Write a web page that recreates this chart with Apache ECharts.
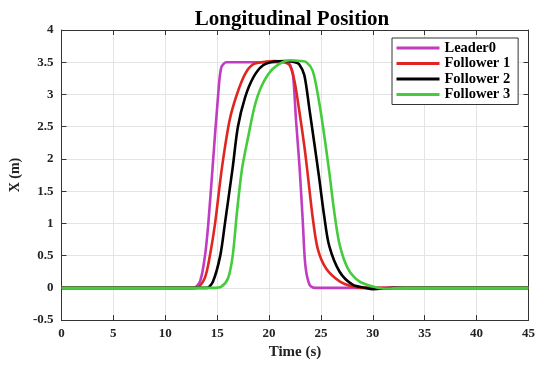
<!DOCTYPE html>
<html>
<head>
<meta charset="utf-8">
<script src="https://cdn.jsdelivr.net/npm/echarts@6/dist/echarts.min.js"></script>
<style>
html, body { margin: 0; padding: 0; background: #fff; }
#chart { width: 538px; height: 365px; }
</style>
</head>
<body>
<div id="chart"></div>
<script>
var seriesNames = ['Leader0', 'Follower 1', 'Follower 2', 'Follower 3'];

// time (s) / longitudinal position (m)
var leaderT = [0, 12.0, 12.7, 13.35, 13.83, 14.15, 14.56, 15.1, 15.4, 15.9, 16.5, 21.3, 21.8, 22.0, 22.3, 22.6, 22.95, 23.26, 23.5, 23.9, 24.4, 25.0, 45];
var leaderX = [0, 0, 0, 0.1, 0.5, 1.0, 1.87, 3.0, 3.42, 3.5, 3.5, 3.5, 3.5, 3.47, 3.32, 2.6, 1.85, 1.0, 0.35, 0.05, 0, 0, 0];

var f1T = [0, 12.3, 13.0, 13.8, 14.3, 14.8, 15.45, 16.2, 16.9, 17.7, 18.5, 19.75, 20.5, 21.5, 22.0, 22.45, 22.9, 23.4, 23.7, 24.2, 24.7, 25.5, 26.8, 28.05, 29.0, 30.0, 45];
var f1X = [0, 0, 0, 0.15, 0.5, 1.0, 1.85, 2.6, 3.0, 3.32, 3.47, 3.51, 3.52, 3.5, 3.45, 3.21, 2.76, 2.2, 1.8, 1.1, 0.6, 0.3, 0.1, 0.02, 0, 0, 0];

var f2T = [0, 13.3, 14.0, 14.6, 15.3, 15.75, 16.5, 17.0, 17.7, 18.5, 19.4, 20.5, 21.5, 22.5, 22.9, 23.4, 23.9, 24.4, 24.8, 25.3, 25.8, 26.8, 28.05, 29.3, 30.0, 32.0, 45];
var f2X = [0, 0, 0, 0.1, 0.5, 1.0, 1.87, 2.5, 2.96, 3.27, 3.45, 3.51, 3.52, 3.5, 3.47, 3.3, 2.76, 2.2, 1.74, 1.13, 0.65, 0.25, 0.05, 0, -0.02, 0, 0];

var f3T = [0, 14.0, 14.6, 15.4, 16.05, 16.5, 16.9, 17.4, 18.0, 18.6, 19.25, 20.2, 21.3, 22.0, 23.0, 23.6, 24.2, 24.7, 25.2, 25.8, 26.3, 26.8, 27.6, 28.7, 30.0, 31.0, 33.0, 45];
var f3X = [0, 0, 0, 0.02, 0.15, 0.5, 1.16, 1.85, 2.35, 2.81, 3.12, 3.37, 3.5, 3.53, 3.52, 3.5, 3.37, 3.0, 2.5, 1.8, 1.16, 0.67, 0.3, 0.1, 0.02, -0.01, 0, 0];

var xTicks = { min: 0, max: 45, interval: 5 };
var yTicks = { min: -0.5, max: 4, interval: 0.5 };

function zip(t, x) {
    var out = [];
    for (var i = 0; i < t.length; i++) {
        out.push([t[i], x[i]]);
    }
    return out;
}

var colors = ['#c03cc0', '#e02620', '#000000', '#44cc3c'];
var allData = [zip(leaderT, leaderX), zip(f1T, f1X), zip(f2T, f2X), zip(f3T, f3X)];

var serif = '"Liberation Serif", "DejaVu Serif", serif';
var chart = echarts.init(document.getElementById('chart'));

var series = [];
var legendData = [];
for (var k = 0; k < seriesNames.length; k++) {
    series.push({
        name: seriesNames[k],
        type: 'line',
        data: allData[k],
        smooth: 0.3,
        symbol: 'none',
        lineStyle: { width: 2.6, color: colors[k] },
        itemStyle: { color: colors[k] },
        z: 10 + k
    });
    legendData.push({ name: seriesNames[k], icon: 'rect' });
}

var boxLine = { show: true, onZero: false, lineStyle: { color: '#333', width: 1 } };
var tickIn = { show: true, inside: true, length: 5, lineStyle: { color: '#333' } };

var option = {
    animation: false,
    title: {
        text: 'Longitudinal Position',
        left: 287,
        top: 4,
        textAlign: 'center',
        textStyle: { fontFamily: serif, fontWeight: 'bold', fontSize: 21, color: '#000' }
    },
    legend: {
        orient: 'vertical',
        left: 392,
        top: 38,
        itemWidth: 43,
        itemHeight: 3,
        itemGap: 0.5,
        padding: [2.5, 8, 2.5, 4.5],
        backgroundColor: '#fff',
        borderColor: '#333',
        borderWidth: 1,
        borderRadius: 0,
        textStyle: { fontFamily: serif, fontWeight: 'bold', fontSize: 14.5, lineHeight: 15, color: '#000' },
        data: legendData
    },
    grid: { left: 61, right: 8, top: 30, bottom: 39, containLabel: false },
    xAxis: [{
        type: 'value',
        min: xTicks.min, max: xTicks.max, interval: xTicks.interval,
        name: 'Time (s)',
        nameLocation: 'middle',
        nameGap: 22,
        nameTextStyle: { fontFamily: serif, fontWeight: 'bold', fontSize: 15, color: '#222' },
        axisLine: boxLine,
        axisTick: tickIn,
        axisLabel: { fontFamily: serif, fontWeight: 'bold', fontSize: 13, color: '#222', margin: 7 },
        splitLine: { show: true, lineStyle: { color: '#e4e4e4', width: 1 } }
    }, {
        type: 'value',
        position: 'top',
        min: xTicks.min, max: xTicks.max, interval: xTicks.interval,
        axisLine: boxLine,
        axisTick: tickIn,
        axisLabel: { show: false },
        splitLine: { show: false }
    }],
    yAxis: [{
        type: 'value',
        min: yTicks.min, max: yTicks.max, interval: yTicks.interval,
        name: 'X (m)',
        nameLocation: 'middle',
        nameGap: 38,
        nameTextStyle: { fontFamily: serif, fontWeight: 'bold', fontSize: 14, color: '#222' },
        axisLine: boxLine,
        axisTick: tickIn,
        axisLabel: { fontFamily: serif, fontWeight: 'bold', fontSize: 13, color: '#222', margin: 8 },
        splitLine: { show: true, lineStyle: { color: '#e4e4e4', width: 1 } }
    }, {
        type: 'value',
        position: 'right',
        min: yTicks.min, max: yTicks.max, interval: yTicks.interval,
        axisLine: boxLine,
        axisTick: tickIn,
        axisLabel: { show: false },
        splitLine: { show: false }
    }],
    series: series
};

chart.setOption(option);
window.onresize = chart.resize;
</script>
</body>
</html>
